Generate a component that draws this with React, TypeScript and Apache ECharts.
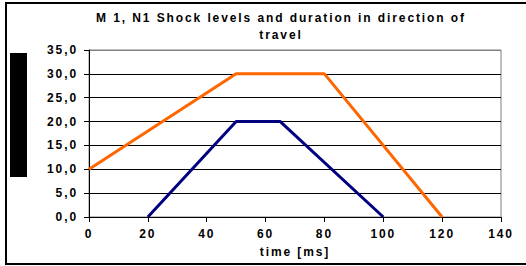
import React, { useEffect, useRef } from "react";
import * as echarts from "echarts";

const titleText = "M 1, N1 Shock levels and duration in direction of\ntravel";
const xAxisName = "time [ms]";
const xTicks = [0, 20, 40, 60, 80, 100, 120, 140];
const yTicks = [0, 5, 10, 15, 20, 25, 30, 35];
const orangeSeries: [number, number][] = [
  [0, 10],
  [50, 30],
  [80, 30],
  [120, 0],
];
const navySeries: [number, number][] = [
  [20, 0],
  [50, 20],
  [65, 20],
  [100, 0],
];

const FONT = "'Liberation Sans', Arial, sans-serif";

export default function App() {
  const ref = useRef<HTMLDivElement>(null);
  useEffect(() => {
    document.body.style.margin = "0";
    const chart = echarts.init(ref.current!, null, { renderer: "svg" });
    const splitColors = yTicks.map((v, i) => (i === yTicks.length - 1 ? "#808080" : "#000000"));
    chart.setOption({
      animation: false,
      backgroundColor: "#ffffff",
      textStyle: { fontFamily: FONT },
      grid: {
        left: 89,
        right: 25,
        top: 50,
        bottom: 49,
        show: true,
        borderColor: "#808080",
        borderWidth: 1,
      },
      graphic: [
        {
          type: "rect",
          shape: { x: 6, y: 3, width: 540, height: 261 },
          style: { fill: "none", stroke: "#000", lineWidth: 2 },
          silent: true,
        },
        {
          type: "rect",
          shape: { x: 10, y: 53, width: 17, height: 124 },
          style: { fill: "#000" },
          silent: true,
        },
        {
          type: "text",
          x: 281,
          y: 9,
          style: {
            text: titleText,
            fontFamily: FONT,
            fontSize: 12,
            fontWeight: "bold",
            fill: "#000",
            align: "center",
            verticalAlign: "top",
            lineHeight: 17,
          },
          silent: true,
        },
      ],
      xAxis: {
        type: "value",
        min: xTicks[0],
        max: xTicks[xTicks.length - 1],
        interval: 20,
        name: xAxisName,
        nameLocation: "middle",
        nameGap: 29,
        nameTextStyle: { fontFamily: FONT, fontSize: 12, fontWeight: "bold", color: "#000" },
        axisLine: { lineStyle: { color: "#000", width: 1 } },
        axisTick: { show: true, inside: false, length: 5, lineStyle: { color: "#000" } },
        axisLabel: { margin: 11, fontFamily: FONT, fontSize: 12, fontWeight: "bold", color: "#000" },
        splitLine: { show: false },
      },
      yAxis: {
        type: "value",
        min: yTicks[0],
        max: yTicks[yTicks.length - 1],
        interval: 5,
        axisLine: { show: true, lineStyle: { color: "#000", width: 1 } },
        axisTick: { show: true, inside: false, length: 5, lineStyle: { color: "#000" } },
        axisLabel: {
          margin: 11,
          fontFamily: FONT,
          fontSize: 12,
          fontWeight: "bold",
          color: "#000",
          formatter: (v: number) => v.toFixed(1).replace(".", ","),
        },
        splitLine: { show: true, lineStyle: { color: splitColors, width: 1 } },
      },
      series: [
        {
          type: "line",
          data: orangeSeries,
          symbol: "none",
          lineStyle: { color: "#FF6600", width: 3 },
        },
        {
          type: "line",
          data: navySeries,
          symbol: "none",
          lineStyle: { color: "#000080", width: 3 },
        },
      ],
    });
    return () => chart.dispose();
  }, []);
  return (
    <>
      <style>{`.shock-chart svg text { letter-spacing: 1.9px; }`}</style>
      <div
        ref={ref}
        className="shock-chart"
        style={{ position: "absolute", left: 0, top: 0, width: 526, height: 266 }}
      />
    </>
  );
}
